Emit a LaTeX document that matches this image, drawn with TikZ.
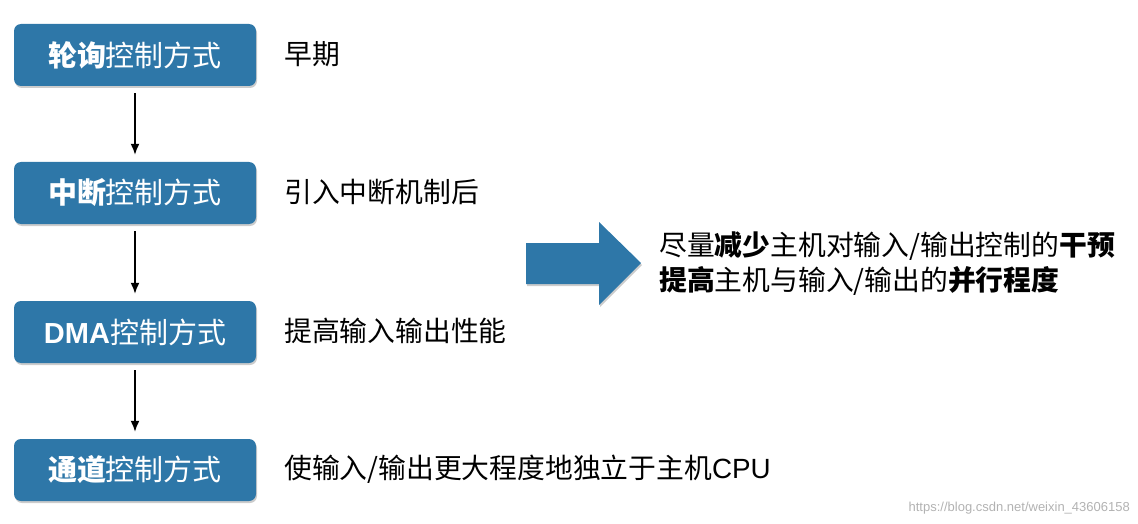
\documentclass[tikz,border=0pt]{standalone}
\usepackage{fontspec}
\setmainfont{Noto Sans CJK SC}
\newfontfamily\lat{Liberation Sans}
\usetikzlibrary{shadows,arrows.meta}
\definecolor{boxblue}{HTML}{2E77A8}
\begin{document}
\begin{tikzpicture}[x=1pt,y=-1pt,
  box/.style={fill=boxblue,rounded corners=7pt,minimum width=242pt,minimum height=62pt,text=white,font=\fontsize{29}{32}\selectfont,inner sep=0pt,drop shadow={shadow xshift=1pt,shadow yshift=-2pt,opacity=0.4}},
  lbl/.style={anchor=west,font=\fontsize{27.8}{30}\selectfont,inner sep=0pt},
  conn/.style={-{Latex[length=11pt,width=9pt]},line width=1.6pt}]
\useasboundingbox (0,0) rectangle (1138,524);
\node[box] (b1) at (135,55) {\textbf{轮询}控制方式};
\node[box] (b2) at (135,193) {\textbf{中断}控制方式};
\node[box] (b3) at (135,332) {{\lat\bfseries DMA}控制方式};
\node[box] (b4) at (135,470) {\textbf{通道}控制方式};
\draw[conn] ([yshift=-7pt]b1.south) -- ([yshift=7pt]b2.north);
\draw[conn] ([yshift=-7pt]b2.south) -- ([yshift=7pt]b3.north);
\draw[conn] ([yshift=-7pt]b3.south) -- ([yshift=7pt]b4.north);
\node[lbl] (t1) at (284,54) {早期};
\node[lbl] (t2) at (284,192) {引入中断机制后};
\node[lbl] (t3) at (284,331) {提高输入输出性能};
\node[lbl] (t4) at (284,469) {使输入/输出更大程度地独立于主机{\lat CPU}};
\fill[boxblue,drop shadow={shadow xshift=1pt,shadow yshift=-2pt,opacity=0.4}] (526,243) -- (599,243) -- (599,222) -- (641,263) -- (599,305) -- (599,284) -- (526,284) -- cycle;
\node[lbl] (r1) at (659,246) {尽量\textbf{减少}主机对输入/输出控制的\textbf{干预}};
\node[lbl] (r2) at (659,281) {\textbf{提高}主机与输入/输出的\textbf{并行程度}};
\node[anchor=east,text=gray!60,font=\lat\fontsize{13}{15}\selectfont,inner sep=0pt] (wm) at (1130,508) {https://blog.csdn.net/weixin\_43606158};
\end{tikzpicture}
\end{document}
